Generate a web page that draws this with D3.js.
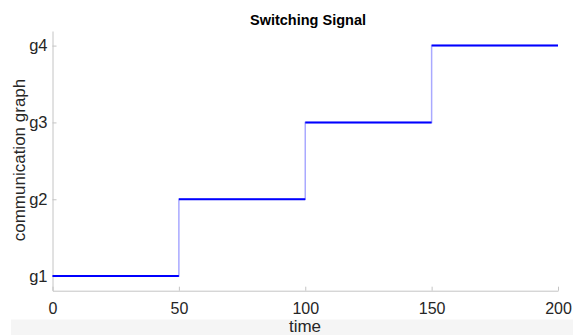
<!DOCTYPE html>
<html>
<head>
<meta charset="utf-8">
<script src="https://cdn.jsdelivr.net/npm/d3@7"></script>
<style>
  body { margin: 0; background: #fff; }
  text { font-family: "Liberation Sans", Arial, sans-serif; }
</style>
</head>
<body>
<script>
// switching signal data
var times = [0, 50, 100, 150, 200];
var graphs = [1, 2, 3, 4, 4];
var yTickLabels = ["g1", "g2", "g3", "g4"];
var xTicks = [0, 50, 100, 150, 200];

var width = 578, height = 335;
var margin = {top: 31, right: 20, bottom: 44.3, left: 52.5};

var svg = d3.select("body").append("svg")
    .attr("width", width)
    .attr("height", height);

var x = d3.scaleLinear().domain([0, 200]).range([margin.left, 558]);
var y = d3.scaleLinear().domain([0.81, 4.19]).range([height - margin.bottom, margin.top]);

// grey band behind the x label
svg.append("rect")
    .attr("x", 11).attr("y", 319.5)
    .attr("width", 562).attr("height", 16)
    .attr("fill", "#f5f5f5");

var axisColor = "#c4c4c4";

// x axis, ticks inward
var gx = svg.append("g")
    .attr("transform", "translate(0," + y.range()[0] + ")")
    .call(d3.axisBottom(x).tickValues(xTicks).tickSizeInner(-4).tickSizeOuter(0).tickPadding(12));
gx.select(".domain").attr("stroke", axisColor);
gx.selectAll(".tick line").attr("stroke", axisColor);
gx.selectAll(".tick text").attr("fill", "#262626").style("font-size", "16px");

// y axis, ticks inward
var gy = svg.append("g")
    .attr("transform", "translate(" + margin.left + ",0)")
    .call(d3.axisLeft(y).tickValues([1, 2, 3, 4])
        .tickFormat(function(d, i) { return yTickLabels[i]; })
        .tickSizeInner(-4).tickSizeOuter(0).tickPadding(5));
gy.select(".domain").attr("stroke", axisColor);
gy.selectAll(".tick line").attr("stroke", axisColor);
gy.selectAll(".tick text").attr("fill", "#262626").style("font-size", "16.5px");

// step line: thin light risers under darker levels
var data = times.map(function(t, i) { return {t: t, g: graphs[i]}; });
var line = d3.line()
    .x(function(d) { return x(d.t); })
    .y(function(d) { return y(d.g); })
    .curve(d3.curveStepAfter);

svg.append("path")
    .datum(data)
    .attr("fill", "none")
    .attr("stroke", "#a9a9ff")
    .attr("stroke-width", 1.5)
    .attr("d", line);

var levels = data.slice(0, -1).map(function(d, i) {
    return {t0: d.t, t1: data[i + 1].t, g: d.g};
});
svg.selectAll(".level")
    .data(levels)
    .enter().append("line")
    .attr("class", "level")
    .attr("x1", function(d) { return x(d.t0); })
    .attr("x2", function(d) { return x(d.t1); })
    .attr("y1", function(d) { return y(d.g); })
    .attr("y2", function(d) { return y(d.g); })
    .attr("stroke", "#0000ff")
    .attr("stroke-width", 2);

// title
svg.append("text")
    .attr("x", 308).attr("y", 25)
    .attr("text-anchor", "middle")
    .style("font-size", "14.5px")
    .style("font-weight", "bold")
    .attr("fill", "#000")
    .text("Switching Signal");

// x label
svg.append("text")
    .attr("x", 305).attr("y", 332)
    .attr("text-anchor", "middle")
    .style("font-size", "17px")
    .attr("fill", "#262626")
    .text("time");

// y label
svg.append("text")
    .attr("transform", "translate(25,160) rotate(-90)")
    .attr("text-anchor", "middle")
    .style("font-size", "17px")
    .attr("fill", "#262626")
    .text("communication graph");
</script>
</body>
</html>
